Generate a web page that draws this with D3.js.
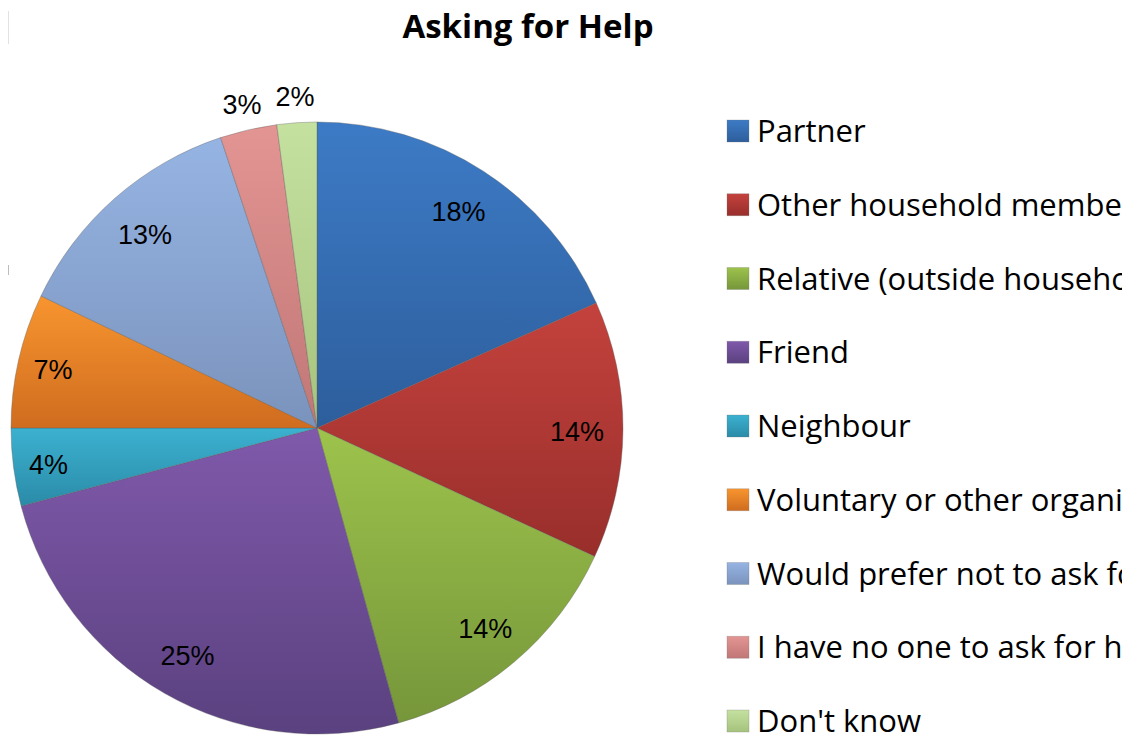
<!DOCTYPE html>
<html>
<head>
<meta charset="utf-8">
<script src="https://cdn.jsdelivr.net/npm/d3@7"></script>
<style>
  html, body { margin: 0; padding: 0; background: #fff; }
  svg { display: block; }
</style>
</head>
<body>
<svg id="chart" width="1134" height="736"></svg>
<script>
// ---- data ----
const title = "Asking for Help";
const categories = [
  "Partner",
  "Other household member",
  "Relative (outside household)",
  "Friend",
  "Neighbour",
  "Voluntary or other organisation",
  "Would prefer not to ask for help",
  "I have no one to ask for help",
  "Don't know"
];
const values = [18.3, 13.6, 13.8, 25.2, 4.1, 7.1, 12.8, 3.0, 2.1];
const colorsTop = ["#3d7bc6", "#c4423d", "#9dc34c", "#8059ab", "#3cb1d0", "#f8952f", "#96b4e3", "#e39593", "#c5e1a0"];
const colorsBottom = ["#2d5e9c", "#982e2b", "#76963a", "#5a417f", "#2a8ba8", "#cf6c1f", "#7a93bc", "#c07776", "#a6c37d"];

// ---- layout ----
const W = 1134, H = 736;
const cx = 317, cy = 428, R = 306;
const svg = d3.select("#chart");
const defs = svg.append("defs");

categories.forEach((c, i) => {
  const g = defs.append("linearGradient")
    .attr("id", "grad" + i)
    .attr("x1", 0).attr("y1", 0).attr("x2", 0).attr("y2", 1);
  g.append("stop").attr("offset", "0%").attr("stop-color", colorsTop[i]);
  g.append("stop").attr("offset", "100%").attr("stop-color", colorsBottom[i]);
});

// the reference legend is cropped at its right edge
defs.append("clipPath").attr("id", "legclip")
  .append("rect").attr("x", 0).attr("y", 0).attr("width", 1122).attr("height", H);

// faint artifacts on the left edge
svg.append("rect").attr("x", 8).attr("y", 11).attr("width", 1).attr("height", 33).attr("fill", "#e2e2e2");
svg.append("rect").attr("x", 8).attr("y", 265).attr("width", 1).attr("height", 10).attr("fill", "#bdbdbd");

// title
svg.append("text")
  .attr("x", 528).attr("y", 38)
  .attr("text-anchor", "middle")
  .attr("font-family", "'Open Sans', sans-serif")
  .attr("font-weight", "bold")
  .attr("font-size", 33)
  .attr("fill", "#000")
  .text(title);

// pie
const pie = d3.pie().sort(null).value(d => d)(values);
const arc = d3.arc().innerRadius(0).outerRadius(R);
const total = d3.sum(values);

const gPie = svg.append("g").attr("transform", `translate(${cx},${cy})`);
gPie.selectAll("path.slice")
  .data(pie)
  .join("path")
  .attr("class", "slice")
  .attr("d", arc)
  .attr("fill", (d, i) => `url(#grad${i})`)
  .attr("stroke", "rgba(90,90,90,0.45)")
  .attr("stroke-width", 0.8);

// labels
function labelRadius(d) {
  const pct = d.value / total * 100;
  if (pct < 3.5) return R + 28;
  if (pct < 8) return R * 0.885;
  return R * 0.85;
}
gPie.selectAll("text.lbl")
  .data(pie)
  .join("text")
  .attr("class", "lbl")
  .attr("transform", d => {
    const a = (d.startAngle + d.endAngle) / 2;
    const r = labelRadius(d);
    return `translate(${Math.sin(a) * r},${-Math.cos(a) * r})`;
  })
  .attr("text-anchor", "middle")
  .attr("dy", "0.42em")
  .attr("font-family", "'Liberation Sans', Arial, sans-serif")
  .attr("font-size", 27)
  .attr("fill", "#000")
  .text(d => Math.round(d.value / total * 100) + "%");

// legend
const legY = d3.scalePoint().domain(categories).range([142, 732]);
const gLeg = svg.append("g").attr("clip-path", "url(#legclip)");
const items = gLeg.selectAll("g.item")
  .data(categories)
  .join("g")
  .attr("class", "item")
  .attr("transform", d => `translate(727,${legY(d)})`);
items.append("rect")
  .attr("x", 0).attr("y", -22)
  .attr("width", 22).attr("height", 22)
  .attr("fill", (d, i) => `url(#grad${i})`)
  .attr("stroke", "rgba(120,120,120,0.35)")
  .attr("stroke-width", 0.8);
items.append("text")
  .attr("x", 30).attr("y", 0)
  .attr("font-family", "'Open Sans', sans-serif")
  .attr("font-size", 31)
  .attr("fill", "#000")
  .text(d => d);
</script>
</body>
</html>
